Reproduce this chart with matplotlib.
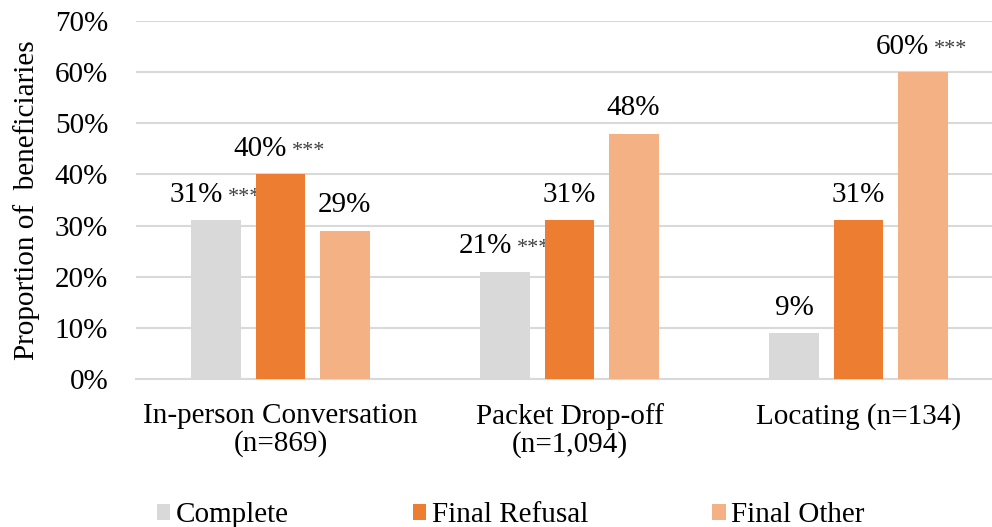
import matplotlib
matplotlib.use("Agg")
import matplotlib.pyplot as plt
import numpy as np

categories = ["In-person Conversation\n(n=869)", "Packet Drop-off\n(n=1,094)", "Locating (n=134)"]
series_names = ["Complete", "Final Refusal", "Final Other"]
complete = [31, 21, 9]
final_refusal = [40, 31, 31]
final_other = [29, 48, 60]
# significance markers for each series, one per category
complete_sig = ["***", "***", ""]
final_refusal_sig = ["***", "", ""]
final_other_sig = ["", "", "***"]
y_ticks = [0, 10, 20, 30, 40, 50, 60, 70]
colors = ["#d9d9d9", "#ed7d31", "#f4b183"]

plt.rcParams["font.family"] = ["Liberation Serif", "DejaVu Serif"]
FS = 21

W, H = 992, 527
fig = plt.figure(figsize=(W / 100, H / 100), dpi=100)
left, right, top, bottom = 136, 1003, 21, 379
ax = fig.add_axes([left / W, (H - bottom) / H, (right - left) / W, (bottom - top) / H])

x = np.arange(len(categories))
width = 0.173
step = 0.2215
all_series = [complete, final_refusal, final_other]
all_sig = [complete_sig, final_refusal_sig, final_other_sig]

for i, (vals, sigs, name, col) in enumerate(zip(all_series, all_sig, series_names, colors)):
    xs = x + (i - 1) * step
    ax.bar(xs, vals, width=width, color=col, label=name, zorder=3)
    for xi, v, star in zip(xs, vals, sigs):
        if star:
            ax.annotate(f"{v}%", (xi, v), xytext=(4.5, 13.2), textcoords="offset points",
                        ha="right", va="baseline", fontsize=FS, color="#000000")
            ax.annotate(star, (xi, v), xytext=(8.0, 13.2), textcoords="offset points",
                        ha="left", va="baseline", fontsize=16, color="#404040")
        else:
            ax.annotate(f"{v}%", (xi, v), xytext=(0, 13.2), textcoords="offset points",
                        ha="center", va="baseline", fontsize=FS, color="#000000")

ax.set_xlim(-0.5, len(categories) - 0.5)
ax.set_ylim(0, 70)
ax.set_yticks(y_ticks)
ax.set_yticklabels([f"{t}%" for t in y_ticks])
ax.set_xticks(x)
ax.set_xticklabels(categories, linespacing=1.06)
ax.tick_params(axis="y", length=0, pad=20, labelsize=FS)
ax.tick_params(axis="x", length=0, pad=17, labelsize=FS)

ax.grid(axis="y", color="#d9d9d9", linewidth=1.5, zorder=0)
for side in ["top", "right", "left"]:
    ax.spines[side].set_visible(False)
ax.spines["bottom"].set_color("#d9d9d9")
ax.spines["bottom"].set_linewidth(1.5)

ax.set_ylabel("Proportion of  beneficiaries", fontsize=FS)
ax.yaxis.set_label_coords(-0.1105, 0.5)

fig.legend(loc="lower center", bbox_to_anchor=(511 / W, -0.052), ncol=3, frameon=False,
           fontsize=FS, handlelength=0.45, handleheight=0.45, handletextpad=0.2,
           columnspacing=4.25)

fig.savefig("out.png", dpi=100)
